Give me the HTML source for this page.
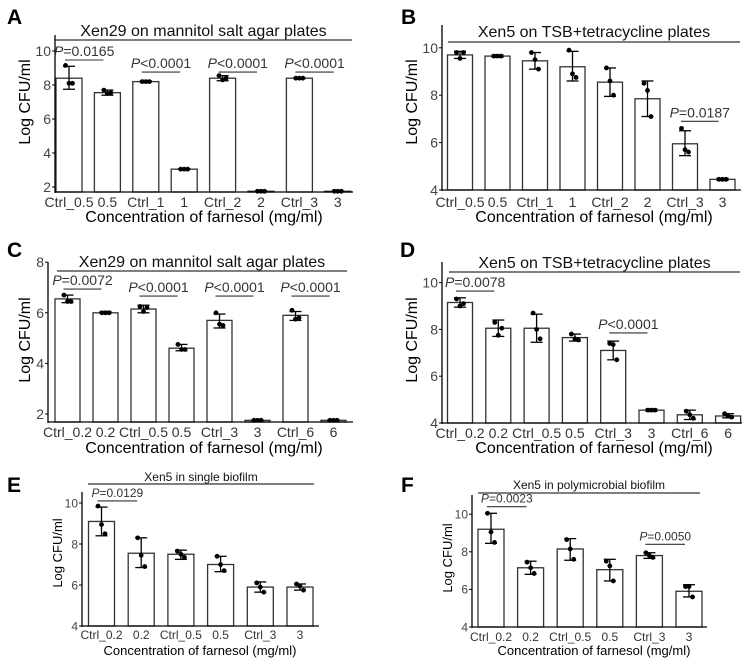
<!DOCTYPE html>
<html><head><meta charset="utf-8"><style>
body{margin:0;background:#fff;}
svg{display:block;font-family:"Liberation Sans",Arial,sans-serif;}
</style></head><body>
<svg id="fig" width="749" height="662" viewBox="0 0 749 662"></svg>
<script>
// Panel A
const aCats=["Ctrl_0.5","0.5","Ctrl_1","1","Ctrl_2","2","Ctrl_3","3"];
const aMeans=[8.4,7.55,8.2,3.05,8.4,1.75,8.4,1.75];
const aLo=[7.75,7.4,8.15,3.02,8.25,1.72,8.37,1.72];
const aHi=[9.1,7.7,8.25,3.08,8.55,1.78,8.43,1.78];
const aPts=[[9.15,8.1,8.1],[7.7,7.5,7.55],[8.2,8.2,8.2],[3.05,3.05,3.05],[8.55,8.3,8.4],[1.75,1.75,1.75],[8.4,8.4,8.4],[1.75,1.75,1.75]];
const aTicks=[2,4,6,8,10];
const aSig=[[0,1,"=0.0165",9.47],[2,3,"<0.0001",8.76],[4,5,"<0.0001",8.76],[6,7,"<0.0001",8.76]];
// Panel B
const bCats=["Ctrl_0.5","0.5","Ctrl_1","1","Ctrl_2","2","Ctrl_3","3"];
const bMeans=[9.7,9.65,9.45,9.2,8.55,7.85,5.95,4.45];
const bLo=[9.55,9.6,9.1,8.6,7.95,7.1,5.45,4.4];
const bHi=[9.85,9.7,9.8,9.85,9.15,8.6,6.5,4.5];
const bPts=[[9.8,9.55,9.8],[9.65,9.65,9.65],[9.8,9.5,9.1],[9.9,8.9,8.75],[9.15,8.6,8.0],[8.5,8.2,7.1],[6.6,5.7,5.6],[4.45,4.45,4.45]];
const bTicks=[4,6,8,10];
const bSig=[[6,7,"=0.0187",6.9]];
// Panel C
const cCats=["Ctrl_0.2","0.2","Ctrl_0.5","0.5","Ctrl_3","3","Ctrl_6","6"];
const cMeans=[6.55,6.0,6.15,4.6,5.7,1.75,5.9,1.75];
const cLo=[6.4,5.97,6.0,4.5,5.4,1.72,5.7,1.72];
const cHi=[6.7,6.05,6.3,4.75,5.95,1.78,6.05,1.78];
const cPts=[[6.7,6.45,6.45],[6.0,6.0,6.0],[6.25,6.05,6.2],[4.75,4.55,4.55],[6.0,5.55,5.5],[1.75,1.75,1.75],[6.1,5.75,5.8],[1.75,1.75,1.75]];
const cTicks=[2,4,6,8];
const cSig=[[0,1,"=0.0072",6.94],[2,3,"<0.0001",6.66],[4,5,"<0.0001",6.66],[6,7,"<0.0001",6.66]];
// Panel D
const dCats=["Ctrl_0.2","0.2","Ctrl_0.5","0.5","Ctrl_3","3","Ctrl_6","6"];
const dMeans=[9.15,8.05,8.05,7.65,7.1,4.55,4.35,4.3];
const dLo=[8.95,7.7,7.45,7.5,6.7,4.5,4.15,4.22];
const dHi=[9.35,8.4,8.65,7.8,7.5,4.6,4.55,4.4];
const dPts=[[9.3,9.0,9.1],[8.3,7.75,8.05],[8.7,8.0,7.6],[7.8,7.6,7.55],[7.4,7.35,6.7],[4.55,4.55,4.55],[4.5,4.35,4.2],[4.4,4.3,4.25]];
const dTicks=[4,6,8,10];
const dSig=[[0,1,"=0.0078",9.64],[4,5,"<0.0001",7.85]];
// Panel E
const eCats=["Ctrl_0.2","0.2","Ctrl_0.5","0.5","Ctrl_3","3"];
const eMeans=[9.1,7.55,7.5,7.0,5.9,5.9];
const eLo=[8.4,6.85,7.25,6.65,5.65,5.75];
const eHi=[9.8,8.3,7.7,7.4,6.15,6.05];
const ePts=[[9.85,8.95,8.5],[8.3,7.45,6.9],[7.65,7.5,7.35],[7.4,7.0,6.7],[6.1,5.9,5.65],[6.05,5.95,5.75]];
const eTicks=[4,6,8,10];
const eSig=[[0,1,"=0.0129",10.1]];
// Panel F
const fCats=["Ctrl_0.2","0.2","Ctrl_0.5","0.5","Ctrl_3","3"];
const fMeans=[9.2,7.15,8.15,7.05,7.8,5.9];
const fLo=[8.45,6.8,7.55,6.45,7.65,5.6];
const fHi=[10.05,7.5,8.7,7.6,7.95,6.25];
const fPts=[[10.05,9.05,8.5],[7.45,7.15,6.85],[8.65,8.15,7.6],[7.5,7.25,6.45],[7.95,7.8,7.7],[6.15,6.15,5.6]];
const fTicks=[4,6,8,10];
const fSig=[[0,1,"=0.0023",10.4],[4,5,"=0.0050",8.4]];

const NS="http://www.w3.org/2000/svg";
const svg=document.getElementById('fig');
function mk(tag,attrs,parent,text){const e=document.createElementNS(NS,tag);for(const k in attrs)e.setAttribute(k,attrs[k]);if(text!==undefined)e.textContent=text;(parent||svg).appendChild(e);return e;}

function panel(o){
  const g=mk('g',{});
  
  
  const y=v=>o.y0-(v-o.vmin)*o.ppu;
  const x=i=>o.c0+i*o.step;
  const lt=mk('text',{x:o.lx,y:o.ly,'font-size':21,'font-weight':'bold',fill:'#000'},g,o.id);
  
  
  const t=mk('text',{x:(o.tl+o.tr)/2,y:o.ty,'font-size':o.tfs,'text-anchor':'middle',fill:'#111'},g,o.title);
  
  
  mk('line',{x1:o.tl,x2:o.tr,y1:o.tly,y2:o.tly,stroke:'#333','stroke-width':1.2},g);
  const bw=o.bw;
  o.means.forEach((m,i)=>{
    const b=mk('rect',{x:x(i)-bw/2,y:Math.min(y(m),o.base),width:bw,height:Math.abs(o.base-y(m)),fill:'#fff',stroke:'#333','stroke-width':1.3},g);
    
    
    const eg=mk('g',{stroke:'#000','stroke-width':1.3},g);
    
    
    mk('line',{x1:x(i),x2:x(i),y1:y(o.lo[i]),y2:y(o.hi[i])},eg);
    mk('line',{x1:x(i)-6,x2:x(i)+6,y1:y(o.lo[i]),y2:y(o.lo[i])},eg);
    mk('line',{x1:x(i)-6,x2:x(i)+6,y1:y(o.hi[i]),y2:y(o.hi[i])},eg);
    o.pts[i].forEach((p,j)=>{
      const c=mk('circle',{cx:x(i)+(j-1)*3.5,cy:y(p),r:2.4,fill:'#000'},g);
      
      
    });
    const tl=mk('text',{x:x(i),y:o.xty,'font-size':o.xfs,'text-anchor':'middle',fill:'#333'},g,o.cats[i]);
    
    
  });
  mk('line',{x1:o.ax,x2:o.ax,y1:o.atop,y2:o.base+1,stroke:'#000','stroke-width':1.3},g);
  mk('line',{x1:o.ax,x2:o.aend,y1:o.base,y2:o.base,stroke:'#000','stroke-width':1.3},g);
  o.ticks.forEach(tv=>{
    mk('line',{x1:o.ax-3,x2:o.ax,y1:y(tv),y2:y(tv),stroke:'#000','stroke-width':1},g);
    const tt=mk('text',{x:o.ax-4,y:y(tv)+o.yfs*0.36,'font-size':o.yfs,'text-anchor':'end',fill:'#444'},g,tv);
    
    
  });
  const yt=mk('text',{x:0,y:0,'font-size':o.ytfs,'text-anchor':'middle',fill:'#000',transform:`translate(${o.ytx},${o.yty}) rotate(-90)`},g,'Log CFU/ml');
  
  
  const xt=mk('text',{x:o.xtx,y:o.xtly,'font-size':o.xtfs,'text-anchor':'middle',fill:'#000'},g,'Concentration of farnesol (mg/ml)');
  
  
  o.sig.forEach(s=>{
    const x1=x(s[0])-4,x2=x(s[1])-4,ly=y(s[3]);
    mk('line',{x1:x1,x2:x2,y1:ly,y2:ly,stroke:'#333','stroke-width':1.1},g);
    const st=mk('text',{x:(x1+x2)/2,y:ly-4,'font-size':o.sfs,'text-anchor':'middle',fill:'#333'},g);
    
    
    mk('tspan',{'font-style':'italic'},st,'P');
    mk('tspan',{},st,s[2]);
  });
}
panel({id:'A',lx:7,ly:24,title:'Xen29 on mannitol salt agar plates',tl:55,tr:352,ty:36,tly:40,tfs:16,
  cats:aCats,means:aMeans,lo:aLo,hi:aHi,pts:aPts,ticks:aTicks,sig:aSig,
  vmin:2,y0:187,ppu:17,base:192,c0:69,step:38.4,bw:26,ax:55,atop:35,aend:353,
  xty:207,xfs:14,yfs:14,ytx:30,yty:102,ytfs:16,xtx:204,xtly:222,xtfs:16,sfs:14});
panel({id:'B',lx:401,ly:24,title:'Xen5 on TSB+tetracycline plates',tl:448,tr:740,ty:37,tly:42,tfs:16,
  cats:bCats,means:bMeans,lo:bLo,hi:bHi,pts:bPts,ticks:bTicks,sig:bSig,
  vmin:4,y0:190,ppu:23.7,base:190,c0:460,step:37.5,bw:25,ax:442,atop:25,aend:741,
  xty:207,xfs:14,yfs:14,ytx:417,yty:102,ytfs:16,xtx:594,xtly:222,xtfs:16,sfs:14});
panel({id:'C',lx:7,ly:257,title:'Xen29 on mannitol salt agar plates',tl:57,tr:347,ty:267,tly:271,tfs:16,
  cats:cCats,means:cMeans,lo:cLo,hi:cHi,pts:cPts,ticks:cTicks,sig:cSig,
  vmin:2,y0:414,ppu:25.3,base:422,c0:67.5,step:38,bw:25,ax:48,atop:262,aend:353,
  xty:437,xfs:14,yfs:14,ytx:30,yty:340,ytfs:16,xtx:204,xtly:453,xtfs:16,sfs:14});
panel({id:'D',lx:400,ly:257,title:'Xen5 on TSB+tetracycline plates',tl:449,tr:740,ty:268,tly:272,tfs:16,
  cats:dCats,means:dMeans,lo:dLo,hi:dHi,pts:dPts,ticks:dTicks,sig:dSig,
  vmin:4,y0:423,ppu:23.4,base:423,c0:460,step:38.3,bw:25,ax:442,atop:262,aend:742,
  xty:438,xfs:14,yfs:14,ytx:417,yty:340,ytfs:16,xtx:594,xtly:453,xtfs:16,sfs:14});
panel({id:'E',lx:7,ly:492,title:'Xen5 in single biofilm',tl:88,tr:314,ty:481,tly:484,tfs:12,
  cats:eCats,means:eMeans,lo:eLo,hi:eHi,pts:ePts,ticks:eTicks,sig:eSig,
  vmin:4,y0:626,ppu:20.5,base:626,c0:101.5,step:39.7,bw:26,ax:82,atop:492,aend:319,
  xty:639,xfs:12,yfs:12,ytx:62,yty:553,ytfs:13,xtx:200,xtly:655,xtfs:13,sfs:12});
panel({id:'F',lx:401,ly:492,title:'Xen5 in polymicrobial biofilm',tl:478,tr:700,ty:489,tly:493,tfs:12,
  cats:fCats,means:fMeans,lo:fLo,hi:fHi,pts:fPts,ticks:fTicks,sig:fSig,
  vmin:4,y0:627,ppu:18.8,base:627,c0:491,step:39.6,bw:26,ax:472,atop:495,aend:707,
  xty:641,xfs:12,yfs:12,ytx:452,yty:558,ytfs:13,xtx:594,xtly:655,xtfs:13,sfs:12});
</script>
</body></html>
